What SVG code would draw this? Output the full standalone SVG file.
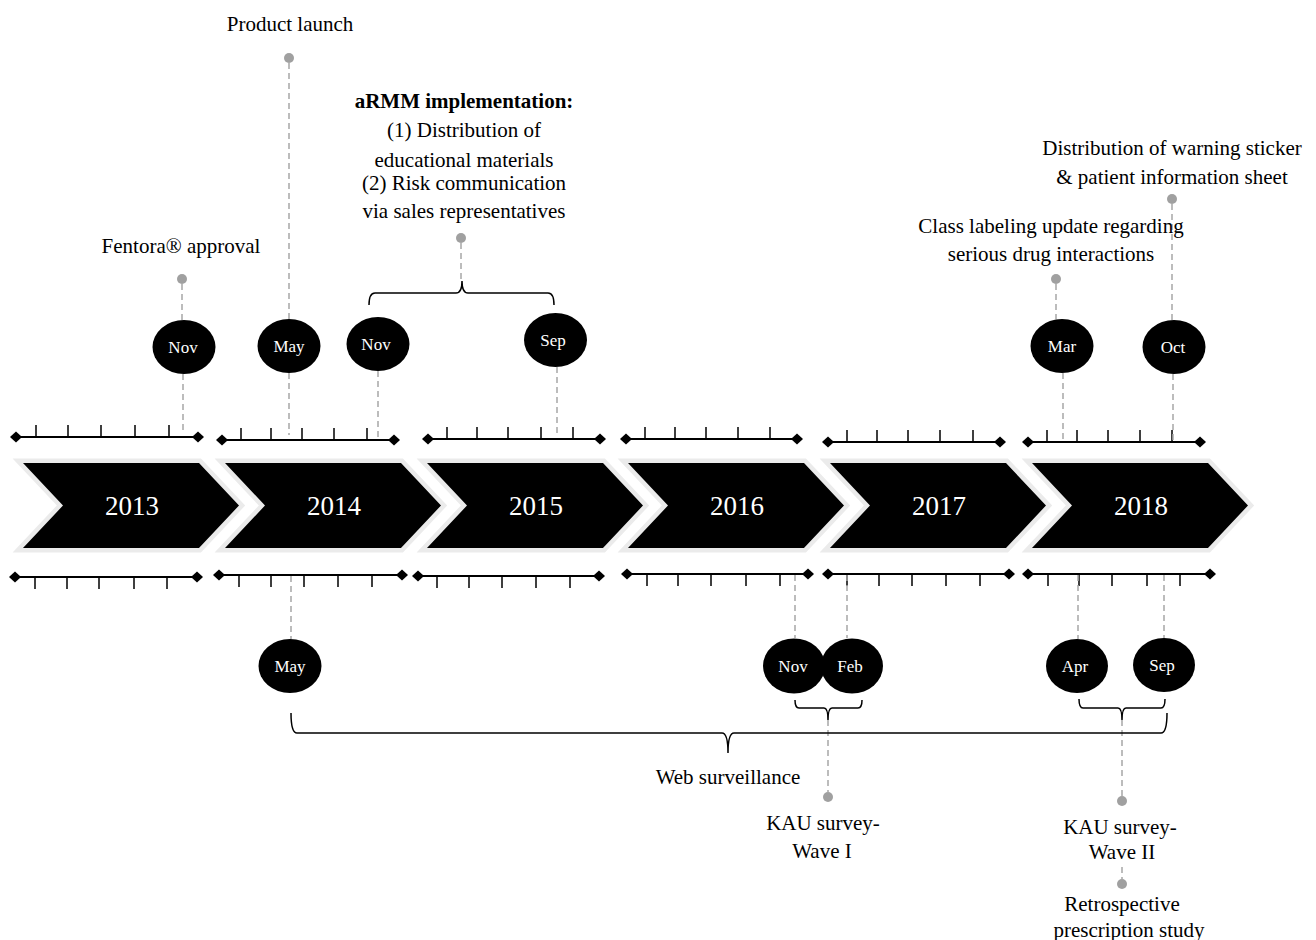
<svg xmlns="http://www.w3.org/2000/svg" xmlns:xlink="http://www.w3.org/1999/xlink" width="1316" height="940" viewBox="0 0 1316 940">
<defs>
<style>
.chb{fill:none;stroke:#ebebeb;stroke-width:9;stroke-linejoin:miter}
.ch{fill:#000}
.yr{font-family:"Liberation Serif",serif;font-size:27px;fill:#fff;text-anchor:middle}
.rl{stroke:#000;stroke-width:2;fill:none}
.tk{stroke:#000;stroke-width:1.5;fill:none}
.mo{fill:#000}
.mt{font-family:"Liberation Serif",serif;font-size:17px;fill:#fff;text-anchor:middle}
.lb{font-family:"Liberation Serif",serif;font-size:21px;fill:#000;text-anchor:middle}
.bd{font-weight:bold}
.ds{stroke:#a6a6a6;stroke-width:1.5;stroke-dasharray:6 4;fill:none}
.dot{fill:#a0a0a0}
.br{fill:none;stroke:#000;stroke-width:1.5}
</style>
<path id="dm" d="M-6,0 L0,-5.5 L6,0 L0,5.5 Z" fill="#000"/>
<polygon id="chev" points="0,463 176,463 216,505.5 176,548 0,548 40,505.5"/>
</defs>
<rect width="1316" height="940" fill="#fff"/>

<g id="chevrons">
<g id="y2013"><use xlink:href="#chev" href="#chev" x="23" class="chb"/><use xlink:href="#chev" href="#chev" x="23" class="ch"/><text class="yr" x="132" y="515">2013</text></g>
<g id="y2014"><use xlink:href="#chev" href="#chev" x="225" class="chb"/><use xlink:href="#chev" href="#chev" x="225" class="ch"/><text class="yr" x="334" y="515">2014</text></g>
<g id="y2015"><use xlink:href="#chev" href="#chev" x="427" class="chb"/><use xlink:href="#chev" href="#chev" x="427" class="ch"/><text class="yr" x="536" y="515">2015</text></g>
<g id="y2016"><use xlink:href="#chev" href="#chev" x="628" class="chb"/><use xlink:href="#chev" href="#chev" x="628" class="ch"/><text class="yr" x="737" y="515">2016</text></g>
<g id="y2017"><use xlink:href="#chev" href="#chev" x="830" class="chb"/><use xlink:href="#chev" href="#chev" x="830" class="ch"/><text class="yr" x="939" y="515">2017</text></g>
<g id="y2018"><use xlink:href="#chev" href="#chev" x="1032" class="chb"/><use xlink:href="#chev" href="#chev" x="1032" class="ch"/><text class="yr" x="1141" y="515">2018</text></g>
</g>

<g id="rulers-top">
<g id="rt2013"><path class="rl" d="M16,437 H198"/><path class="tk" d="M36,437V425M68,437V425M101,437V425M135,437V425M169,437V425"/><use href="#dm" xlink:href="#dm" x="16" y="437"/><use href="#dm" xlink:href="#dm" x="198" y="437"/></g>
<g id="rt2014"><path class="rl" d="M222,440 H394"/><path class="tk" d="M241,440V428M271,440V428M302,440V428M334,440V428M367,440V428"/><use href="#dm" xlink:href="#dm" x="222" y="440"/><use href="#dm" xlink:href="#dm" x="394" y="440"/></g>
<g id="rt2015"><path class="rl" d="M428,439 H600"/><path class="tk" d="M447,439V427M477,439V427M508,439V427M541,439V427M573,439V427"/><use href="#dm" xlink:href="#dm" x="428" y="439"/><use href="#dm" xlink:href="#dm" x="600" y="439"/></g>
<g id="rt2016"><path class="rl" d="M626,439 H797"/><path class="tk" d="M645,439V427M675,439V427M706,439V427M738,439V427M770,439V427"/><use href="#dm" xlink:href="#dm" x="626" y="439"/><use href="#dm" xlink:href="#dm" x="797" y="439"/></g>
<g id="rt2017"><path class="rl" d="M828,442 H1000"/><path class="tk" d="M847,442V430M877,442V430M908,442V430M940,442V430M973,442V430"/><use href="#dm" xlink:href="#dm" x="828" y="442"/><use href="#dm" xlink:href="#dm" x="1000" y="442"/></g>
<g id="rt2018"><path class="rl" d="M1028,442 H1200"/><path class="tk" d="M1047,442V430M1077,442V430M1108,442V430M1140,442V430M1172,442V430"/><use href="#dm" xlink:href="#dm" x="1028" y="442"/><use href="#dm" xlink:href="#dm" x="1200" y="442"/></g>
</g>

<g id="rulers-bottom">
<g id="rb2013"><path class="rl" d="M15,577 H197"/><path class="tk" d="M35,577V589M67,577V589M99,577V589M134,577V589M167,577V589"/><use href="#dm" xlink:href="#dm" x="15" y="577"/><use href="#dm" xlink:href="#dm" x="197" y="577"/></g>
<g id="rb2014"><path class="rl" d="M219,575 H402"/><path class="tk" d="M239,575V587M271,575V587M304,575V587M338,575V587M372,575V587"/><use href="#dm" xlink:href="#dm" x="219" y="575"/><use href="#dm" xlink:href="#dm" x="402" y="575"/></g>
<g id="rb2015"><path class="rl" d="M418,576 H599"/><path class="tk" d="M437,576V588M469,576V588M502,576V588M536,576V588M570,576V588"/><use href="#dm" xlink:href="#dm" x="418" y="576"/><use href="#dm" xlink:href="#dm" x="599" y="576"/></g>
<g id="rb2016"><path class="rl" d="M627,574 H808"/><path class="tk" d="M647,574V586M678,574V586M711,574V586M746,574V586M780,574V586"/><use href="#dm" xlink:href="#dm" x="627" y="574"/><use href="#dm" xlink:href="#dm" x="808" y="574"/></g>
<g id="rb2017"><path class="rl" d="M828,574 H1009"/><path class="tk" d="M847,574V586M879,574V586M912,574V586M946,574V586M980,574V586"/><use href="#dm" xlink:href="#dm" x="828" y="574"/><use href="#dm" xlink:href="#dm" x="1009" y="574"/></g>
<g id="rb2018"><path class="rl" d="M1028,574 H1210"/><path class="tk" d="M1048,574V586M1079,574V586M1112,574V586M1147,574V586M1180,574V586"/><use href="#dm" xlink:href="#dm" x="1028" y="574"/><use href="#dm" xlink:href="#dm" x="1210" y="574"/></g>
</g>

<g id="connectors">
<path class="ds" d="M182,284 V320 M183,374 V433"/>
<path class="ds" d="M289,63 V319 M289,373 V435"/>
<path class="ds" d="M378,371 V437"/>
<path class="ds" d="M557,367 V436"/>
<path class="ds" d="M461,243 V281"/>
<path class="ds" d="M1056,284 V319 M1063,373 V440"/>
<path class="ds" d="M1172,204 V320 M1173,374 V440"/>
<path class="ds" d="M291,576 V639"/>
<path class="ds" d="M795,575 V638"/>
<path class="ds" d="M847,575 V638"/>
<path class="ds" d="M1078,575 V639"/>
<path class="ds" d="M1164,575 V638"/>
<path class="ds" d="M828,720 V792"/>
<path class="ds" d="M1122,720 V796"/>
<path class="ds" d="M1122,867 V879"/>
<path class="br" d="M369,305 Q369,293 375,293 L456,293 Q462,293 462,281 Q462,293 468,293 L548,293 Q554,293 554,305"/>
<path class="br" d="M291,713 Q291,733 297,733 L722,733 Q728,733 728,753 Q728,733 734,733 L1161,733 Q1167,733 1167,713"/>
<path class="br" d="M795,700 Q795,708 799,708 L824,708 Q828,708 828,720 Q828,708 832,708 L858,708 Q862,708 862,700"/>
<path class="br" d="M1079,699 Q1079,708 1083,708 L1118,708 Q1122,708 1122,720 Q1122,708 1126,708 L1161,708 Q1165,708 1165,699"/>
<circle class="dot" cx="182" cy="279" r="5"/>
<circle class="dot" cx="289" cy="58" r="5"/>
<circle class="dot" cx="461" cy="238" r="5"/>
<circle class="dot" cx="1056" cy="279" r="5"/>
<circle class="dot" cx="1172" cy="199" r="5"/>
<circle class="dot" cx="828" cy="797" r="5"/>
<circle class="dot" cx="1122" cy="801" r="5"/>
<circle class="dot" cx="1122" cy="884" r="5"/>
</g>

<g id="m-nov2013"><ellipse class="mo" cx="184" cy="347" rx="31.5" ry="27"/><text class="mt" x="183" y="353">Nov</text></g>
<g id="m-may2014"><ellipse class="mo" cx="289" cy="346" rx="31.5" ry="27"/><text class="mt" x="289" y="352">May</text></g>
<g id="m-nov2014"><ellipse class="mo" cx="378" cy="344" rx="31.5" ry="27"/><text class="mt" x="376" y="350">Nov</text></g>
<g id="m-sep2015"><ellipse class="mo" cx="555.5" cy="340" rx="31.5" ry="27"/><text class="mt" x="553" y="346">Sep</text></g>
<g id="m-mar2018"><ellipse class="mo" cx="1062" cy="346" rx="31.5" ry="27"/><text class="mt" x="1062" y="352">Mar</text></g>
<g id="m-oct2018"><ellipse class="mo" cx="1174" cy="347" rx="31.5" ry="27"/><text class="mt" x="1173" y="353">Oct</text></g>
<g id="m-may2014b"><ellipse class="mo" cx="290" cy="666" rx="31.5" ry="27"/><text class="mt" x="290" y="672">May</text></g>
<g id="m-nov2016b"><ellipse class="mo" cx="794" cy="666" rx="31" ry="27.5"/><text class="mt" x="793" y="672">Nov</text></g>
<g id="m-feb2017b"><ellipse class="mo" cx="852" cy="666" rx="31" ry="27.5"/><text class="mt" x="850" y="672">Feb</text></g>
<g id="m-apr2018b"><ellipse class="mo" cx="1077" cy="666" rx="31" ry="27"/><text class="mt" x="1075" y="672">Apr</text></g>
<g id="m-sep2018b"><ellipse class="mo" cx="1164" cy="665" rx="31" ry="27"/><text class="mt" x="1162" y="671">Sep</text></g>

<g id="lbl-product"><text class="lb" x="290" y="31">Product launch</text></g>
<g id="lbl-fentora"><text class="lb" x="181" y="253">Fentora® approval</text></g>
<g id="lbl-armm">
<text class="lb bd" x="464" y="108">aRMM implementation:</text>
<text class="lb" x="464" y="137">(1) Distribution of</text>
<text class="lb" x="464" y="167">educational materials</text>
<text class="lb" x="464" y="190">(2) Risk communication</text>
<text class="lb" x="464" y="218">via sales representatives</text>
</g>
<g id="lbl-sticker">
<text class="lb" x="1172" y="155">Distribution of warning sticker</text>
<text class="lb" x="1172" y="184">&amp; patient information sheet</text>
</g>
<g id="lbl-class">
<text class="lb" x="1051" y="233">Class labeling update regarding</text>
<text class="lb" x="1051" y="261">serious drug interactions</text>
</g>
<g id="lbl-web"><text class="lb" x="728" y="784">Web surveillance</text></g>
<g id="lbl-kau1">
<text class="lb" x="823" y="830">KAU survey-</text>
<text class="lb" x="822" y="858">Wave I</text>
</g>
<g id="lbl-kau2">
<text class="lb" x="1120" y="834">KAU survey-</text>
<text class="lb" x="1122" y="859">Wave II</text>
</g>
<g id="lbl-retro">
<text class="lb" x="1122" y="911">Retrospective</text>
<text class="lb" x="1129" y="937">prescription study</text>
</g>
</svg>
